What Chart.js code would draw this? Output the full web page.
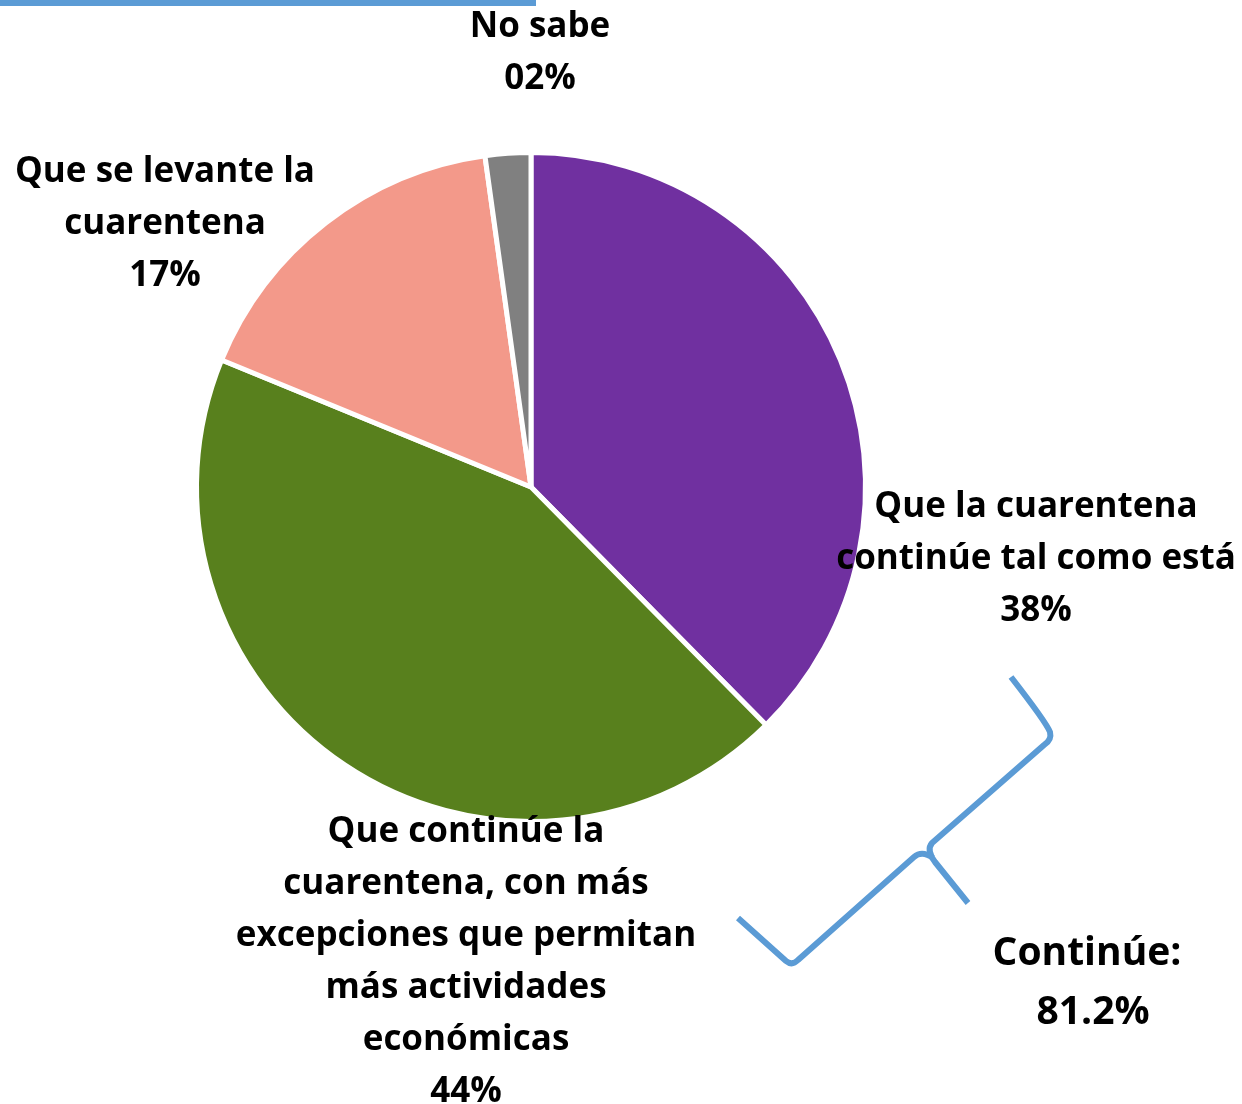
<!DOCTYPE html>
<html>
<head>
<meta charset="utf-8">
<script src="https://cdn.jsdelivr.net/npm/chart.js@4.4.1/dist/chart.umd.min.js"></script>
<style>
  html, body { margin: 0; padding: 0; background: #fff; }
  #wrap { position: relative; width: 1242px; height: 1104px; }
</style>
</head>
<body>
<div id="wrap"><canvas id="pie" width="1242" height="1104"></canvas></div>
<script>
// datos del gráfico
const CATEGORIES = [
  'Que la cuarentena\ncontinúe tal como está',
  'Que continúe la\ncuarentena, con más\nexcepciones que permitan\nmás actividades\neconómicas',
  'Que se levante la\ncuarentena',
  'No sabe'
]
const VALUES = [37.6, 43.6, 16.6, 2.2]
const COLORS = ['#7030a0', '#58801d', '#f3998a', '#808080']
const SUMMARY_LABEL = 'Continúe:'
const SUMMARY_VALUE = '81.2%'

// posiciones de etiquetas (centro de la primera línea)
const LABEL_POS = [[1036, 507], [466, 832], [165, 172], [540, 27]]
const LINE_H = 52
const FONT = 'bold 35px "Open Sans", Lato, sans-serif'

const pctText = v => String(Math.round(v)).padStart(2, '0') + '%'

const labelsPlugin = {
  id: 'labels',
  afterDraw(chart) {
    const ctx = chart.ctx
    ctx.save()
    ctx.fillStyle = '#000'
    ctx.textAlign = 'center'
    ctx.textBaseline = 'middle'
    ctx.font = FONT
    CATEGORIES.forEach((cat, i) => {
      const lines = cat.split('\n').concat(pctText(VALUES[i]))
      const [x, y] = LABEL_POS[i]
      lines.forEach((ln, j) => ctx.fillText(ln, x, y + j * LINE_H))
    })

    // llave azul
    ctx.strokeStyle = '#5b9bd5'
    ctx.lineWidth = 6
    ctx.lineJoin = 'round'
    ctx.lineCap = 'butt'
    ctx.beginPath()
    ctx.moveTo(1011, 677)
    ctx.quadraticCurveTo(1046, 722, 1050, 732)
    ctx.quadraticCurveTo(1052, 740, 1044, 745)
    ctx.lineTo(932, 843)
    ctx.quadraticCurveTo(926, 850, 935, 862)
    ctx.lineTo(968, 903)
    ctx.stroke()
    ctx.beginPath()
    ctx.moveTo(933, 858)
    ctx.quadraticCurveTo(922, 850, 914, 857)
    ctx.lineTo(798, 960)
    ctx.quadraticCurveTo(792, 966, 786, 961)
    ctx.lineTo(738, 918)
    ctx.stroke()

    // resumen
    ctx.font = 'bold 39px "Open Sans", Lato, sans-serif'
    ctx.fillText(SUMMARY_LABEL, 1087, 954)
    ctx.fillText(SUMMARY_VALUE, 1093, 1013)

    // barra superior
    ctx.fillStyle = '#5b9bd5'
    ctx.fillRect(0, 0, 536, 6)
    ctx.restore()
  }
}

new Chart(document.getElementById('pie'), {
  type: 'pie',
  data: {
    labels: CATEGORIES,
    datasets: [{
      data: VALUES,
      backgroundColor: COLORS,
      borderColor: '#ffffff',
      borderWidth: 5
    }]
  },
  options: {
    responsive: false,
    animation: false,
    layout: { padding: { left: 194, right: 374, top: 150, bottom: 280 } },
    plugins: { legend: { display: false }, tooltip: { enabled: false } }
  },
  plugins: [labelsPlugin]
})
</script>
</body>
</html>
